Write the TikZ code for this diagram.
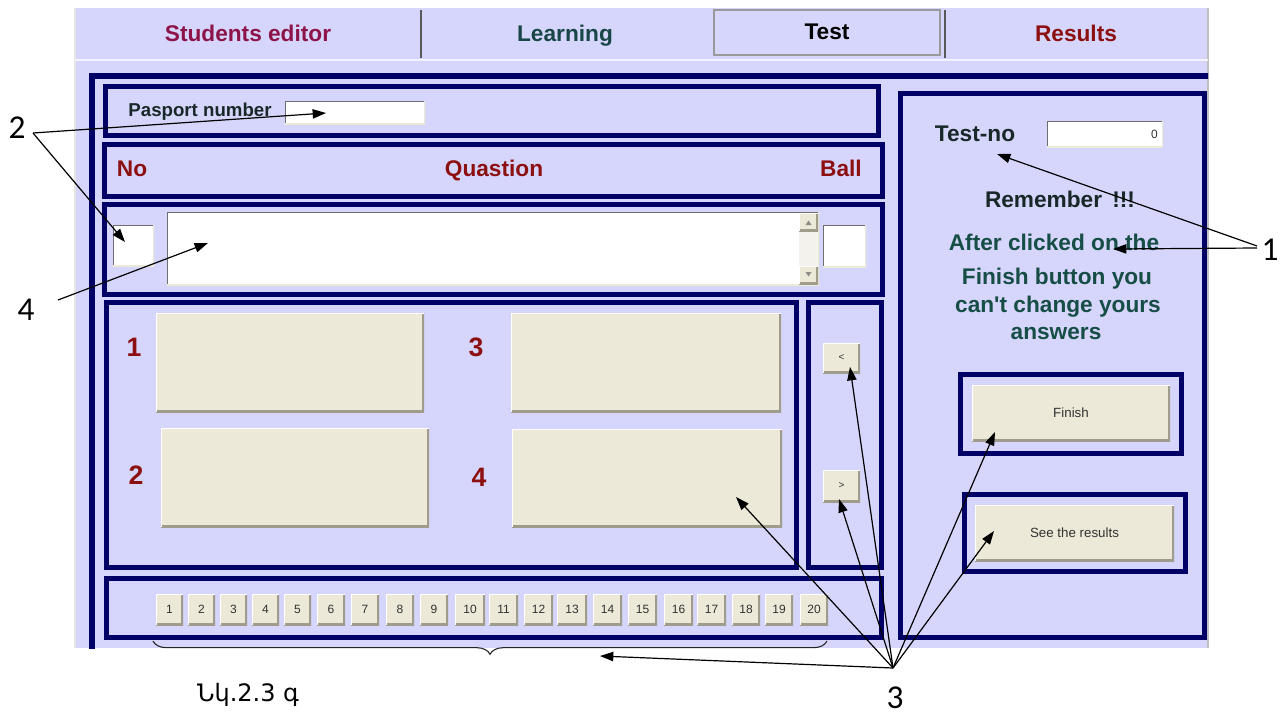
\documentclass[tikz,border=0pt]{standalone}
\usepackage{fontspec}
\setmainfont{Liberation Sans}
\newfontfamily\armfont{DejaVu Sans}
\newfontfamily\calfont{Carlito}
\usetikzlibrary{arrows.meta,decorations.pathreplacing}
\definecolor{lav}{RGB}{214,214,252}
\definecolor{navy}{RGB}{0,0,102}
\definecolor{face}{RGB}{236,233,216}
\definecolor{shad}{RGB}{160,156,140}
\definecolor{sunk}{RGB}{110,110,110}
\definecolor{scrl}{RGB}{243,242,236}
\definecolor{maroon}{RGB}{140,20,72}
\definecolor{dred}{RGB}{140,16,16}
\definecolor{teal2}{RGB}{22,78,70}
\definecolor{ltext}{RGB}{24,70,70}
\definecolor{dtext}{RGB}{24,40,40}
\definecolor{btext}{RGB}{50,50,50}
\newcommand{\rbox}[7]{\node[#1,anchor=north west,minimum width={((#5)-(#3))*0.75pt},minimum height={((#6)-(#4))*0.75pt}] (#2) at (#3,#4) {#7};}
\begin{document}
\begin{tikzpicture}[x=0.75pt,y=-0.75pt,
  panel/.style={draw=navy, line width=3.75pt, inner sep=0pt, outer sep=0pt},
  btn/.style={fill=face, inner sep=0pt, outer sep=0pt, text=btext,
    path picture={\draw[shad, line width=2.4pt] (path picture bounding box.south west) -- (path picture bounding box.south east) -- (path picture bounding box.north east);
      \draw[white, line width=1.6pt] (path picture bounding box.south west) -- (path picture bounding box.north west) -- (path picture bounding box.north east);}},
  inp/.style={fill=white, inner sep=0pt, outer sep=0pt,
    path picture={\draw[sunk, line width=2.2pt] (path picture bounding box.south west) -- (path picture bounding box.north west) -- (path picture bounding box.north east);
      \draw[face, line width=1.6pt] (path picture bounding box.south west) -- (path picture bounding box.south east) -- (path picture bounding box.north east);}},
  tab/.style={font=\fontsize{17}{20}\selectfont\bfseries, inner sep=0pt, anchor=base},
  hdr/.style={font=\fontsize{17}{20}\selectfont\bfseries, inner sep=0pt, anchor=base},
  lblp/.style={font=\fontsize{14}{16}\selectfont\bfseries, inner sep=0pt, anchor=base},
  big/.style={font=\fontsize{20}{22}\selectfont\bfseries, inner sep=0pt, text=dred},
  bt/.style={font=\fontsize{10}{12}\selectfont},
  numf/.style={font=\fontsize{9}{11}\selectfont},
  tiny/.style={font=\fontsize{7.5}{9}\selectfont},
  annot/.style={font=\calfont\fontsize{25}{28}\selectfont, inner sep=0pt},
  ann/.style={-{Triangle[length=10pt,width=7pt]}, line width=0.9pt, black}]
\useasboundingbox (0,0) rectangle (1288,717);
\fill[white] (0,0) rectangle (1288,717);
% window background
\fill[lav] (75,8) rectangle (1208,648);
\draw[black!25, line width=0.8pt] (1208,8) -- (1208,648);
\draw[black!10, line width=0.8pt] (75,8) -- (75,648);
\draw[white!70!lav, line width=1.5pt] (75,60) -- (1208,60);
% tabs
\node[tab, text=maroon] (tSE) at (248,42) {Students editor};
\draw[black!65, line width=1.2pt] (421,10) -- (421,58);
\node[tab, text=ltext] (tL) at (565,42) {Learning};
\draw[black!40, line width=1pt, fill=lav] (714,10) rectangle (940,55);
\node[tab, text=black] (tT) at (827,40) {Test};
\draw[black!65, line width=1.2pt] (945,10) -- (945,58);
\node[tab, text=dred] (tR) at (1076,42) {Results};
% outer frame
\begin{scope}
\clip (75,8) rectangle (1208,648);
\draw[navy, line width=4.5pt] (91.5,670) -- (91.5,76.5) -- (1230,76.5);
\end{scope}
% panels
\rbox{panel}{pasp}{105.5}{86.5}{878}{135.5}{}
\rbox{panel}{head}{104.5}{144}{882}{196}{}
\rbox{panel}{ques}{104.5}{204.5}{882}{294.5}{}
\rbox{panel}{ans}{106}{302.5}{796}{567}{}
\rbox{panel}{nav}{808}{302.5}{881}{567}{}
\rbox{panel}{nums}{106}{578}{881.5}{637}{}
\rbox{panel}{right}{900.5}{93.5}{1204.5}{637}{}
\rbox{panel}{finf}{960.5}{374.5}{1181.5}{453.5}{}
\rbox{panel}{seef}{964.5}{494.5}{1185.5}{571.5}{}
% passport row
\node[lblp, text=dtext] (pl) at (200,116) {Pasport number};
\rbox{inp}{pin}{285}{101}{425}{124}{}
% header
\node[hdr, text=dred] (hNo) at (132,176) {No};
\node[hdr, text=dred] (hQ) at (494,176) {Quastion};
\node[hdr, text=dred] (hB) at (841,176) {Ball};
% question row
\rbox{inp}{nobox}{113}{225}{154}{266}{}
\rbox{inp}{qarea}{167}{212}{819}{285}{}
\fill[scrl] (799,213) rectangle (818,284);
\rbox{btn}{scrUp}{799}{213}{818}{231}{}
\rbox{btn}{scrDn}{799}{266}{818}{284}{}
\fill[black!45] (805.5,225) -- (811.5,225) -- (808.5,220.5) -- cycle;
\fill[black!45] (805.5,272) -- (811.5,272) -- (808.5,276.5) -- cycle;
\rbox{inp}{ballbox}{823}{225}{866}{267}{}
% answers
\node[big] (l1) at (134,347) {1};
\node[big] (l3) at (476,347) {3};
\node[big] (l2) at (136,475) {2};
\node[big] (l4) at (479,477) {4};
\rbox{btn}{a1}{156}{313}{424}{412}{}
\rbox{btn}{a3}{511}{313}{781}{412}{}
\rbox{btn}{a2}{161}{428}{429}{527}{}
\rbox{btn}{a4}{512}{429}{782}{527}{}
% navigation
\rbox{btn,tiny}{prev}{823}{343}{860}{373}{<}
\rbox{btn,tiny}{next}{823}{470}{860}{502}{>}
% question number buttons
\foreach \n/\xa/\w in {1/156/27,2/188/27,3/220/27,4/252/27,5/284/27,6/317/28,7/351/28,8/386/28,9/420/28,10/455/30,11/489/29,12/524/29,13/557/30,14/593/29,15/628/29,16/664/29,17/697/29,18/732/28,19/765/28,20/800/28}{
  \rbox{btn,numf}{b\n}{\xa}{594}{\xa+\w}{625}{\n}
}
% right panel
\node[hdr, text=dtext, anchor=center] (tn) at (975,134) {Test-no};
\rbox{inp}{tin}{1047}{121}{1163}{147}{}
\node[numf, text=btext, anchor=east, inner sep=0pt] (zero) at (1158,134) {0};
\node[hdr, text=dtext] (rem) at (1060,207) {Remember\hspace{0.45em}!!!};
\node[hdr, text=teal2] (w1) at (1054,250) {After clicked on the};
\node[hdr, text=teal2] (w2) at (1057,284) {Finish button you};
\node[hdr, text=teal2] (w3) at (1058,312) {can\textquotesingle t change yours};
\node[hdr, text=teal2] (w4) at (1056,339) {answers};
\rbox{btn,bt}{fin}{972}{385}{1170}{441}{Finish}
\rbox{btn,bt}{see}{975}{505}{1174}{561}{See the results}
% brace under the number buttons
\draw[decorate, decoration={brace, mirror, amplitude=10pt}, line width=0.8pt, black!85] (153,641) -- (827,641);
% caption
\node[font=\armfont\fontsize{18}{20}\selectfont, inner sep=0pt] (cap) at (248,695) {Նկ.2.3 գ};
% annotation labels
\node[annot] (n2) at (17,128) {2};
\node[annot] (n4) at (26,310) {4};
\node[annot] (n1) at (1270,250) {1};
\node[annot] (n3) at (895,698) {3};
% arrow targets
\coordinate (t2a) at (326,113);
\coordinate (t2b) at (125,242);
\coordinate (t4) at (208,243);
\coordinate (t1a) at (997,154);
\coordinate (t1b) at (1113,249);
\coordinate (t3br) at (600,656);
\coordinate (t3a4) at (736,497);
\coordinate (t3nx) at (839,499);
\coordinate (t3pv) at (850,367);
\coordinate (t3fn) at (995,432);
\coordinate (t3se) at (994,531);
% arrows
\draw[ann] ([shift={(16,5)}]n2.center) -- (t2a);
\draw[ann] ([shift={(16,5)}]n2.center) -- (t2b);
\draw[ann] ([shift={(32,-10)}]n4.center) -- (t4);
\draw[ann] ([shift={(-13,-4)}]n1.center) -- (t1a);
\draw[ann] ([shift={(-13,-2)}]n1.center) -- (t1b);
\foreach \t in {t3br,t3a4,t3nx,t3pv,t3fn,t3se}{
  \draw[ann] ([shift={(-2,-30)}]n3.center) -- (\t);
}
\end{tikzpicture}
\end{document}
